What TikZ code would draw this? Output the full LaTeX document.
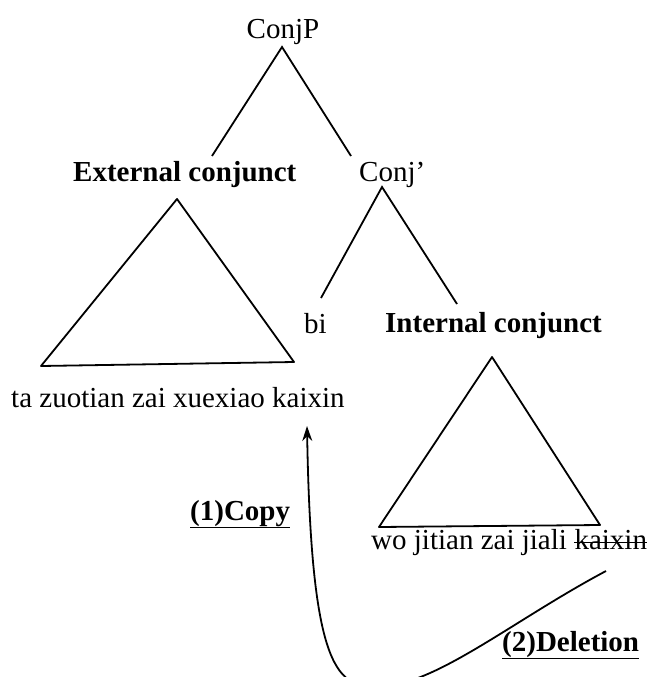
\documentclass[tikz,border=0pt]{standalone}
\usepackage{fontspec}
\setmainfont{Liberation Serif}
\usetikzlibrary{arrows.meta}
\begin{document}
\begin{tikzpicture}[x=1pt,y=-1pt,
  lbl/.style={inner sep=0pt,anchor=base west,font=\fontsize{29}{34}\selectfont},
  branch/.style={line width=1.8pt},
  move/.style={line width=1.8pt},
  rule/.style={line width=1.9pt}]
\useasboundingbox (0,0) rectangle (650,677);

% labels of the tree
\node[lbl,anchor=base] (conjp) at (283,39) {ConjP};
\node[lbl] (ext) at (73,181) {\textbf{External conjunct}};
\node[lbl] (conjbar) at (359,181) {Conj’};
\node[lbl] (bi) at (304,333) {bi};
\node[lbl] (int) at (385,332) {\textbf{Internal conjunct}};
\node[lbl] (extstr) at (11,407) {ta zuotian zai xuexiao kaixin};
\node[lbl] (intstr) at (371,549) {wo jitian zai jiali};
\node[lbl,xshift=7.25pt] (kx) at (intstr.base east) {kaixin};
\node[lbl] (copy) at (190,520) {\textbf{(1)Copy}};
\node[lbl] (del) at (502,651) {\textbf{(2)Deletion}};

% strike-out and underlines
\draw[rule] ([yshift=6.5pt]kx.base west) -- ([yshift=6.5pt]kx.base east);
\draw[rule] ([yshift=-7.5pt]copy.base west) -- ([yshift=-7.5pt]copy.base east);
\draw[rule] ([yshift=-7.5pt]del.base west) -- ([yshift=-7.5pt]del.base east);

% branch points
\coordinate (top) at (282,47);
\coordinate (extup) at (212,156);
\coordinate (conjup) at (351,156);
\coordinate (cbar) at (382,187);
\coordinate (biup) at (321,298);
\coordinate (intup) at (457,304);

% triangles
\coordinate (ea) at (177,199);
\coordinate (el) at (41,366);
\coordinate (er) at (294,362);
\coordinate (ia) at (492,357);
\coordinate (il) at (379,527);
\coordinate (ir) at (600,525);

\draw[branch] (extup) -- (top) -- (conjup);
\draw[branch] (biup) -- (cbar) -- (intup);
\draw[branch,line join=round] (el) -- (ea) -- (er) -- cycle;
\draw[branch,line join=round] (il) -- (ia) -- (ir) -- cycle;

% copy and deletion path
\coordinate (delstart) at (606,571);
\coordinate (copyend) at (307,426);
\begin{scope}
\clip (0,0) rectangle (650,677);
\draw[move,-{Stealth[length=15pt,width=10pt]}] (delstart)
  .. controls (510,622) and (430,690) .. (375,686)
  .. controls (335,688) and (311,660) .. (copyend);
\end{scope}
\end{tikzpicture}
\end{document}
